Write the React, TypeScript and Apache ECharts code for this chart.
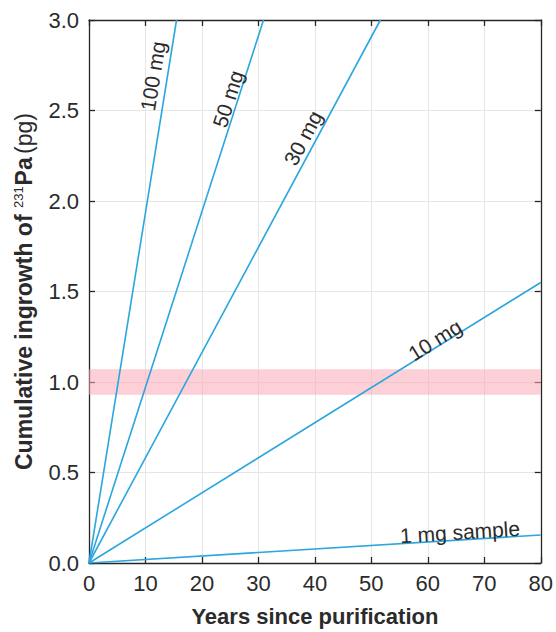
import React, { useEffect, useRef } from "react";
import * as echarts from "echarts";

const xTicks = [0, 10, 20, 30, 40, 50, 60, 70, 80];
const yTicks = ["0.0", "0.5", "1.0", "1.5", "2.0", "2.5", "3.0"];

const seriesNames = ["100 mg", "50 mg", "30 mg", "10 mg", "1 mg sample"];
const line100: [number, number][] = [[0, 0], [15.5, 3.0]];
const line50: [number, number][] = [[0, 0], [30.9, 3.0]];
const line30: [number, number][] = [[0, 0], [51.6, 3.0]];
const line10: [number, number][] = [[0, 0], [80, 1.55]];
const line1: [number, number][] = [[0, 0], [80, 0.155]];
const bandRange: [number, number] = [0.93, 1.07];

const FONT = "Liberation Sans, Arial, Helvetica, sans-serif";
const LINE_COLOR = "#2ba6df";
const AXIS_COLOR = "#262626";
const TEXT_COLOR = "#2b2b2b";

export default function App() {
  const ref = useRef<HTMLDivElement>(null);
  useEffect(() => {
    if (!ref.current) return;
    const chart = echarts.init(ref.current, undefined, { renderer: "svg" });
    const lines = [line100, line50, line30, line10, line1];
    const axisCommon = {
      type: "value" as const,
      axisLine: { show: true, onZero: false, lineStyle: { color: AXIS_COLOR, width: 1.3 } },
      axisTick: { show: true, inside: true, length: 6, lineStyle: { color: AXIS_COLOR, width: 1.3 } },
    };
    chart.setOption({
      animation: false,
      backgroundColor: "#ffffff",
      grid: { left: 89, top: 20, right: 15, bottom: 63, containLabel: false },
      xAxis: [
        {
          ...axisCommon,
          min: 0,
          max: 80,
          interval: 10,
          position: "bottom",
          name: "Years since purification",
          nameLocation: "middle",
          nameGap: 42,
          nameTextStyle: { fontFamily: FONT, fontWeight: "bold", fontSize: 22, color: TEXT_COLOR },
          axisLabel: {
            fontFamily: FONT,
            fontSize: 22,
            color: TEXT_COLOR,
            margin: 9,
            formatter: (v: number) => String(xTicks[Math.round(v / 10)] ?? v),
          },
          splitLine: { show: true, lineStyle: { color: "#e6e6e6", width: 1 } },
        },
        {
          ...axisCommon,
          min: 0,
          max: 80,
          interval: 10,
          position: "top",
          axisLabel: { show: false },
          splitLine: { show: false },
        },
      ],
      yAxis: [
        {
          ...axisCommon,
          min: 0,
          max: 3,
          interval: 0.5,
          position: "left",
          name: "{b|Cumulative ingrowth of }{sup|231}{b|Pa} {n|(pg)}",
          nameLocation: "middle",
          nameGap: 53,
          nameTextStyle: {
            color: TEXT_COLOR,
            rich: {
              b: { fontFamily: FONT, fontWeight: "bold", fontSize: 23, color: TEXT_COLOR, lineHeight: 24 },
              sup: { fontFamily: FONT, fontSize: 13, color: TEXT_COLOR, verticalAlign: "top", lineHeight: 24, padding: [0, 1, 9, 0] },
              n: { fontFamily: FONT, fontSize: 23, color: TEXT_COLOR, lineHeight: 24 },
            },
          },
          axisLabel: {
            fontFamily: FONT,
            fontSize: 22,
            color: TEXT_COLOR,
            margin: 10,
            formatter: (v: number) => yTicks[Math.round(v / 0.5)] ?? String(v),
          },
          splitLine: { show: true, lineStyle: { color: "#e6e6e6", width: 1 } },
        },
        {
          ...axisCommon,
          min: 0,
          max: 3,
          interval: 0.5,
          position: "right",
          axisLabel: { show: false },
          splitLine: { show: false },
        },
      ],
      series: [
        {
          type: "line",
          name: "band",
          data: [],
          markArea: {
            silent: true,
            itemStyle: { color: "rgba(250, 170, 180, 0.55)" },
            data: [[{ xAxis: 0, yAxis: bandRange[0] }, { xAxis: 80, yAxis: bandRange[1] }]],
          },
          z: 1,
        },
        ...lines.map((d, i) => ({
          type: "line",
          name: seriesNames[i],
          data: d,
          showSymbol: false,
          symbol: "none",
          lineStyle: { color: LINE_COLOR, width: 1.6 },
          z: 3,
        })),
      ],
      graphic: [
        { text: seriesNames[0], x: 153, y: 76, rot: 80.9 },
        { text: seriesNames[1], x: 228, y: 99, rot: 72.4 },
        { text: seriesNames[2], x: 303, y: 138, rot: 62 },
        { text: seriesNames[3], x: 435, y: 340, rot: 32 },
        { text: seriesNames[4], x: 460, y: 532, rot: 3.6 },
      ].map((l) => ({
        type: "text",
        x: l.x,
        y: l.y,
        rotation: (l.rot * Math.PI) / 180,
        style: {
          text: l.text,
          fontFamily: FONT,
          fontSize: 21,
          fill: TEXT_COLOR,
          align: "center",
          verticalAlign: "middle",
        },
        z: 10,
      })),
    });
    return () => chart.dispose();
  }, []);
  return (
    <div
      ref={ref}
      style={{ position: "absolute", left: 0, top: 0, width: 556, height: 632 }}
    />
  );
}
